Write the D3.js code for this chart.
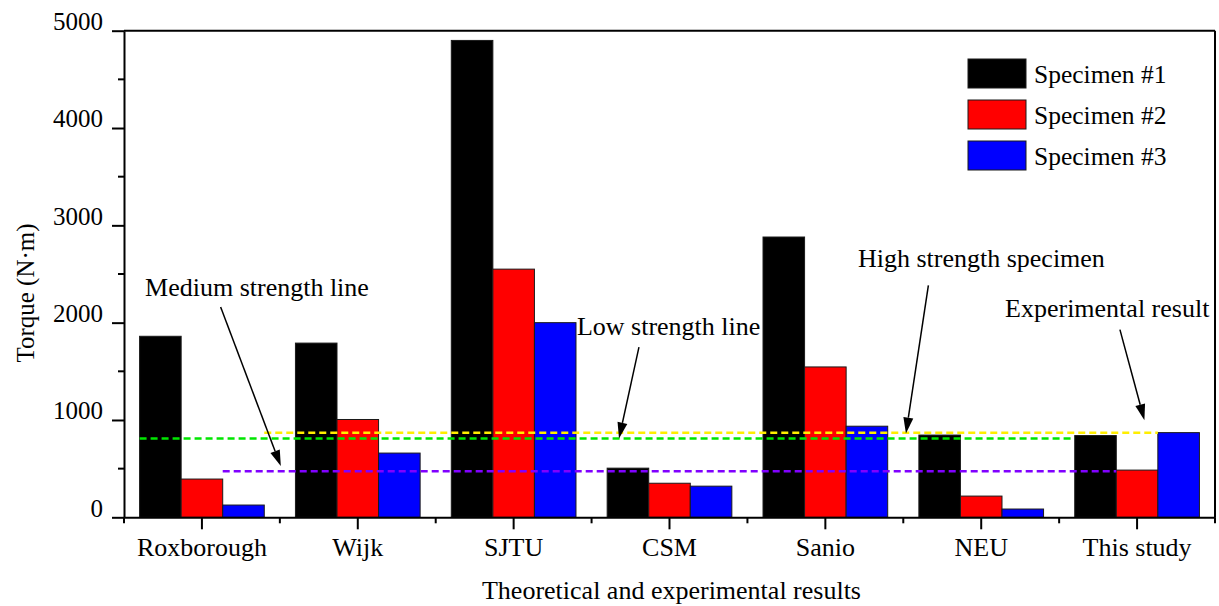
<!DOCTYPE html>
<html>
<head>
<meta charset="utf-8">
<script src="https://cdn.jsdelivr.net/npm/d3@7"></script>
<style>
  html, body { margin: 0; padding: 0; background: #fff; }
  svg { display: block; }
  text { font-family: "Liberation Serif", "Times New Roman", serif; fill: #000; }
</style>
</head>
<body>
<svg id="chart" width="1219" height="606"></svg>
<script>
// ---- data ----
const categories = ["Roxborough", "Wijk", "SJTU", "CSM", "Sanio", "NEU", "This study"];
const seriesNames = ["Specimen #1", "Specimen #2", "Specimen #3"];
const specimen1 = [1860, 1790, 4900, 505, 2880, 845, 840];
const specimen2 = [393, 1005, 2550, 350, 1545, 218, 485];
const specimen3 = [126, 660, 2000, 320, 936, 85, 870];
const yMajorTicks = [0, 1000, 2000, 3000, 4000, 5000];
const yMinorTicks = [500, 1500, 2500, 3500, 4500];

// reference strength levels (torque values)
const refNames = ["High", "Low", "Medium"];
const refValues = [870, 810, 472];

// annotation texts
const noteTexts = ["Medium strength line", "Low strength line", "High strength specimen", "Experimental result"];

// ---- layout & style ----
const svg = d3.select("#chart");
const W = 1219, H = 606;
const margin = { left: 124, right: 4, top: 30.7, bottom: 88.7 };
const plotL = margin.left, plotR = W - margin.right;
const plotT = margin.top, plotB = H - margin.bottom;
const seriesColors = ["#000000", "#ff0000", "#0000ff"];
const refColors = ["#ffee00", "#00e600", "#8000ff"];
const font = "Liberation Serif";

svg.append("rect").attr("width", W).attr("height", H).attr("fill", "#fff");

const x = d3.scaleBand().domain(categories).range([plotL, plotR]).padding(0);
const bw = x.bandwidth();
const xInner = d3.scaleBand().domain(seriesNames).range([0, bw]).paddingInner(0).paddingOuter(0.375);
const y = d3.scaleLinear().domain([0, 5000]).range([plotB, plotT]);

const seriesValues = [specimen1, specimen2, specimen3];
const rows = [];
seriesNames.forEach((s, si) => {
  categories.forEach((c, ci) => rows.push({ cat: c, series: s, si, value: seriesValues[si][ci] }));
});

// ---- bars ----
svg.append("g").selectAll("rect").data(rows).join("rect")
  .attr("x", d => x(d.cat) + xInner(d.series))
  .attr("y", d => y(d.value))
  .attr("width", xInner.bandwidth())
  .attr("height", d => y(0) - y(d.value))
  .attr("fill", d => seriesColors[d.si])
  .attr("stroke", "#1a1a1a")
  .attr("stroke-width", 1);

// ---- dashed reference lines, spans tied to bar edges ----
const barLeft = (cat, s) => x(cat) + xInner(s);
const barRight = (cat, s) => x(cat) + xInner(s) + xInner.bandwidth();
const refSpans = [
  [barRight("Roxborough", "Specimen #3"), barLeft("This study", "Specimen #3")],
  [barLeft("Roxborough", "Specimen #1"), barLeft("This study", "Specimen #1")],
  [barLeft("Roxborough", "Specimen #3"), barLeft("This study", "Specimen #2")]
];
svg.append("g").selectAll("line").data(refValues).join("line")
  .attr("x1", (d, i) => refSpans[i][0])
  .attr("x2", (d, i) => refSpans[i][1])
  .attr("y1", d => y(d)).attr("y2", d => y(d))
  .attr("stroke", (d, i) => refColors[i])
  .attr("stroke-width", 2.5)
  .attr("stroke-dasharray", "7,4");

// ---- axes ----
const axisG = svg.append("g");
const yAxis = d3.axisLeft(y).tickValues(yMajorTicks).tickSize(12).tickSizeOuter(0).tickPadding(9)
  .tickFormat(d3.format("d"));
const gy = axisG.append("g").attr("transform", `translate(${plotL},0)`).call(yAxis);
gy.selectAll("text").attr("font-family", font).attr("font-size", 25).attr("dy", "-0.05em");
gy.append("g").selectAll("line").data(yMinorTicks).join("line")
  .attr("x1", -6).attr("x2", 0).attr("y1", d => y(d)).attr("y2", d => y(d));

const xAxis = d3.axisBottom(x).tickSize(12).tickSizeOuter(0).tickPadding(0);
const gx = axisG.append("g").attr("transform", `translate(0,${plotB})`).call(xAxis);
gx.selectAll(".tick text").attr("font-family", font).attr("font-size", 26)
  .attr("dy", null).attr("y", 39);
const bandEdges = categories.map(c => x(c)).concat([plotR]);
gx.append("g").selectAll("line").data(bandEdges).join("line")
  .attr("x1", d => d).attr("x2", d => d).attr("y1", 0).attr("y2", 6);

// frame on top and right
axisG.append("line").attr("x1", plotL).attr("x2", plotR).attr("y1", plotT).attr("y2", plotT);
axisG.append("line").attr("x1", plotR).attr("x2", plotR).attr("y1", plotT).attr("y2", plotB);
axisG.selectAll("line, path").attr("stroke", "#000").attr("stroke-width", 2).attr("fill", "none");
axisG.selectAll(".domain").attr("stroke-width", 2);

// axis titles
svg.append("text")
  .attr("x", (plotL + plotR) / 2 + 2).attr("y", 599)
  .attr("text-anchor", "middle").attr("font-size", 26).attr("font-family", font)
  .text("Theoretical and experimental results");
svg.append("text")
  .attr("transform", `translate(34,${293}) rotate(-90)`)
  .attr("text-anchor", "middle").attr("font-size", 25).attr("font-family", font)
  .text("Torque (N\u00B7m)");

// ---- legend ----
const legend = svg.append("g").attr("transform", "translate(968,59)");
seriesNames.forEach((s, i) => {
  const g = legend.append("g").attr("transform", `translate(0,${i * 41})`);
  g.append("rect").attr("width", 58).attr("height", 29)
    .attr("fill", seriesColors[i]).attr("stroke", "#1a1a1a").attr("stroke-width", 1);
  g.append("text").attr("x", 66).attr("y", 23.5)
    .attr("font-size", 25.5).attr("font-family", font).text(s);
});

// ---- annotations: text anchor and arrow, placed in (category, band fraction, torque) space ----
const px = (cat, f) => x(cat) + f * bw;
const notes = [
  { text: noteTexts[0], at: ["Roxborough", 0.135, 2269], from: ["Roxborough", 0.62, 2160], to: ["Roxborough", 1.006, 526] },
  { text: noteTexts[1], at: ["SJTU", 0.906, 1869], from: ["CSM", 0.304, 1749], to: ["CSM", 0.176, 810] },
  { text: noteTexts[2], at: ["Sanio", 0.709, 2577], from: ["NEU", 0.161, 2382], to: ["NEU", 0.017, 861] },
  { text: noteTexts[3], at: ["NEU", 0.653, 2057], from: ["This study", 0.39, 1928], to: ["This study", 0.547, 998] }
];
const noteG = svg.append("g");
notes.forEach(n => {
  noteG.append("text")
    .attr("x", px(n.at[0], n.at[1])).attr("y", y(n.at[2]))
    .attr("font-size", 26).attr("font-family", font).text(n.text);
  const x1 = px(n.from[0], n.from[1]), y1 = y(n.from[2]);
  const x2 = px(n.to[0], n.to[1]), y2 = y(n.to[2]);
  const ang = Math.atan2(y2 - y1, x2 - x1);
  const headLen = 16, headHalf = 5;
  const bx = x2 - headLen * Math.cos(ang), by = y2 - headLen * Math.sin(ang);
  noteG.append("line").attr("x1", x1).attr("y1", y1).attr("x2", bx).attr("y2", by)
    .attr("stroke", "#000").attr("stroke-width", 1.5);
  const pts = [
    [x2, y2],
    [bx + headHalf * Math.sin(ang), by - headHalf * Math.cos(ang)],
    [bx - headHalf * Math.sin(ang), by + headHalf * Math.cos(ang)]
  ];
  noteG.append("path").attr("d", d3.line()(pts) + "Z").attr("fill", "#000");
});
</script>
</body>
</html>
